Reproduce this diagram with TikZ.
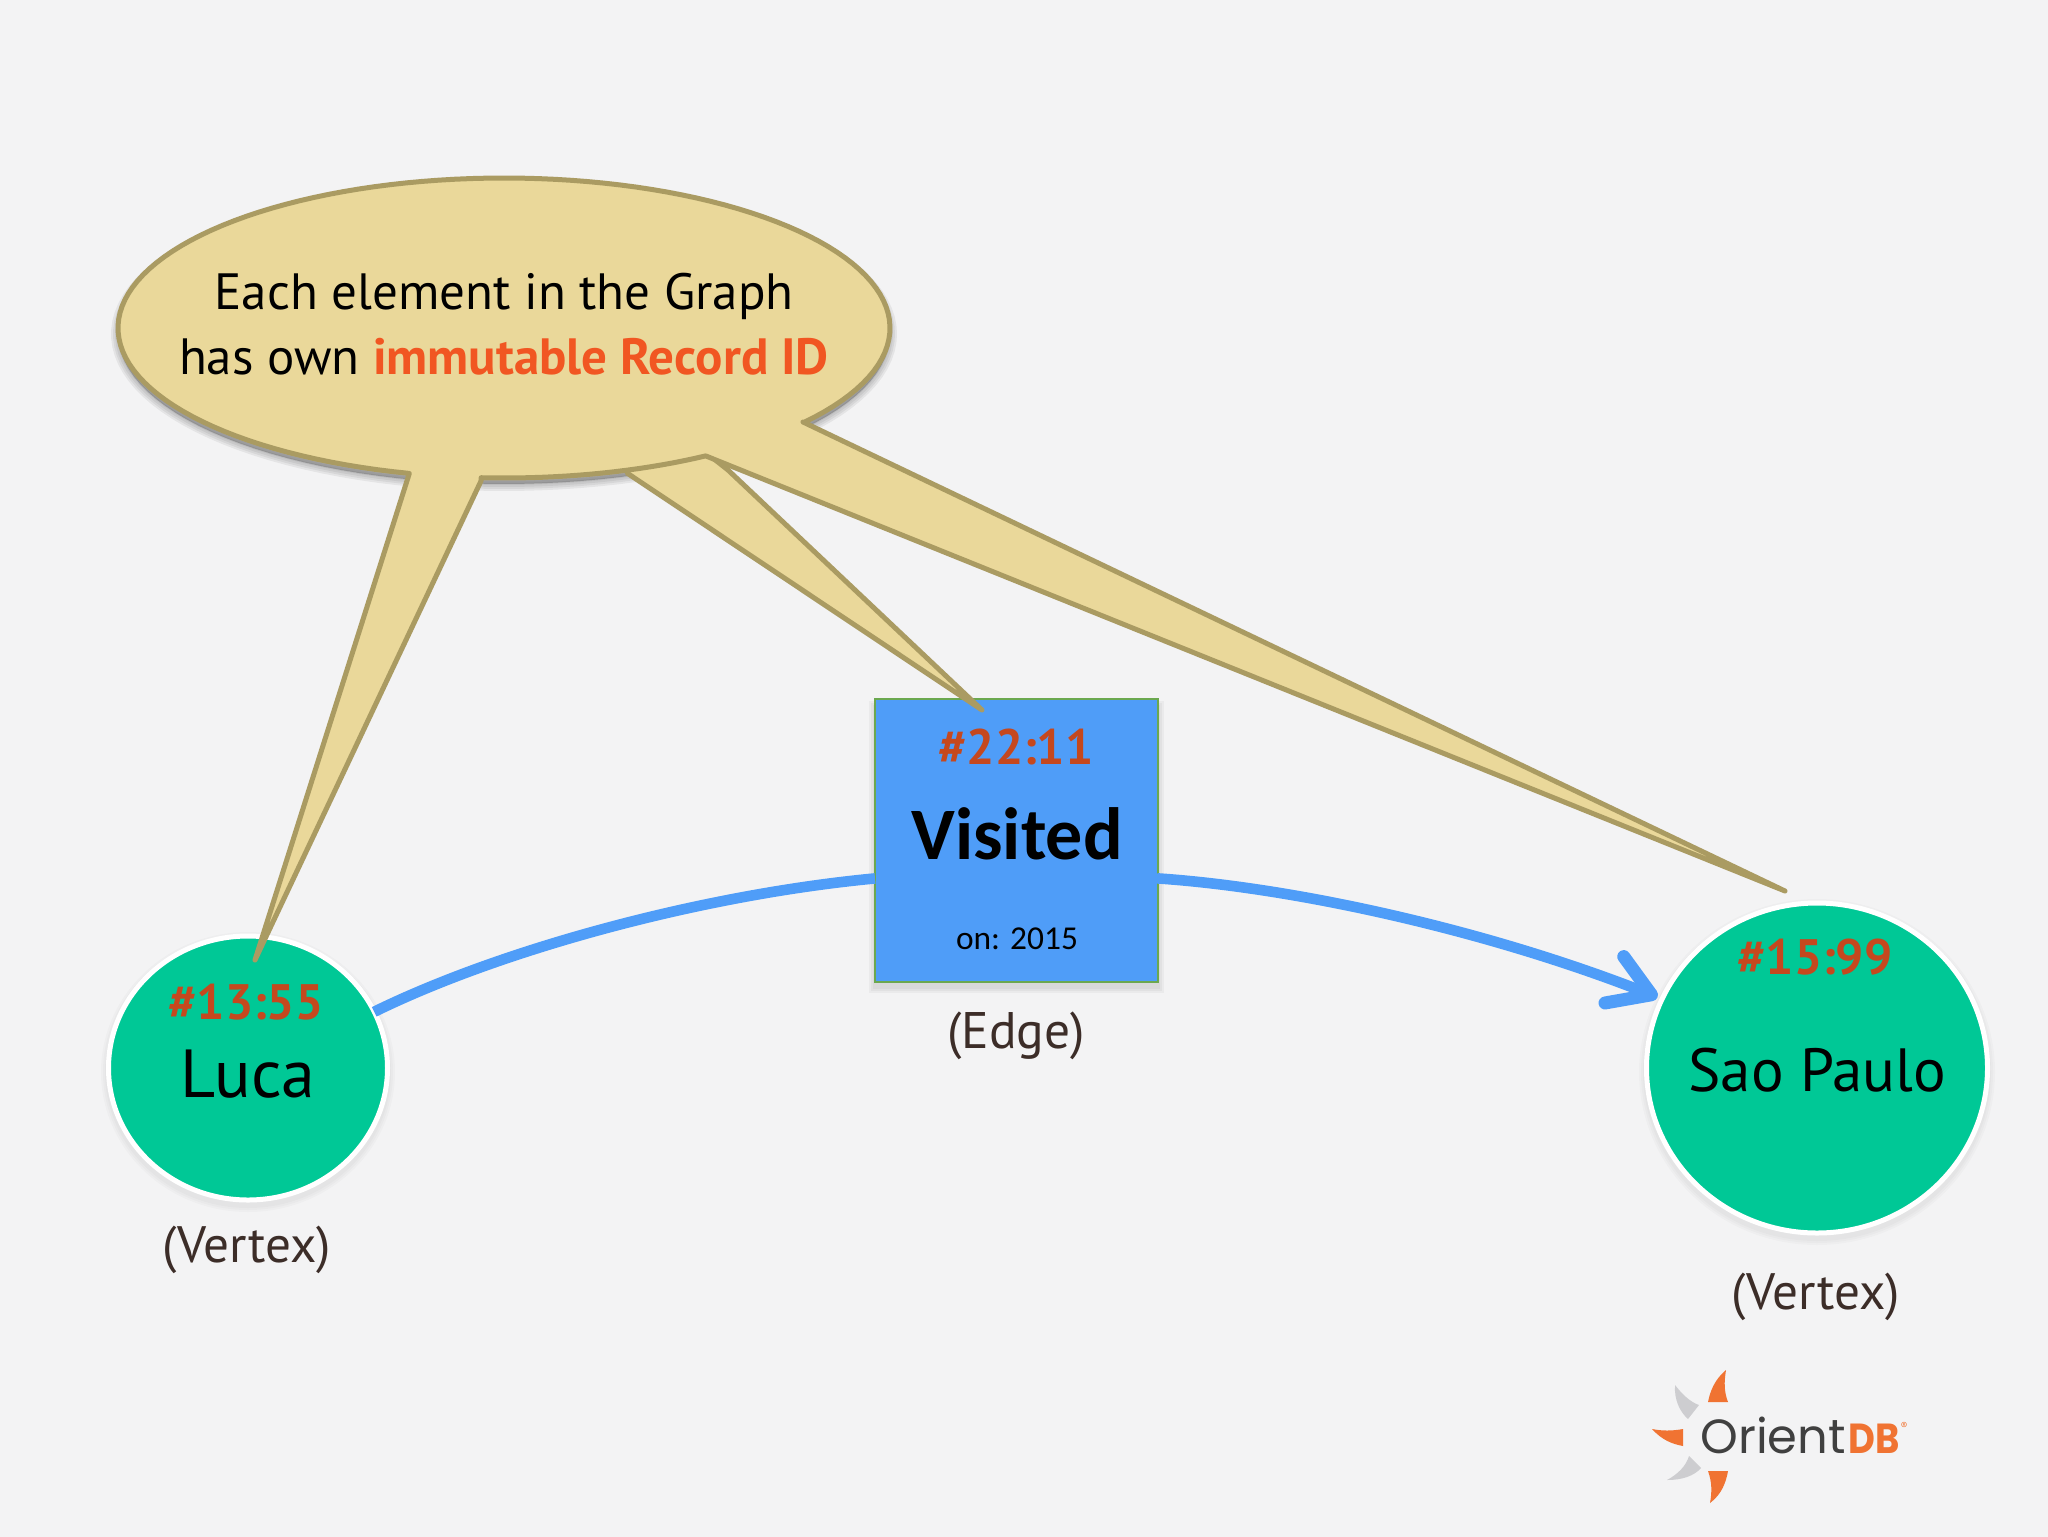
\documentclass[tikz,border=0pt]{standalone}
\usepackage{fontspec}
\usetikzlibrary{shapes.geometric,arrows.meta,bending}
\setmainfont{PT Sans}
\newfontfamily\carl{Carlito}
\newfontfamily\pop{Poppins}
\definecolor{bg}{RGB}{243,243,244}
\definecolor{vgreen}{RGB}{0,200,150}
\definecolor{eblue}{RGB}{79,157,248}
\definecolor{eedge}{RGB}{107,168,79}
\definecolor{idred}{RGB}{197,72,30}
\definecolor{idhi}{RGB}{241,86,34}
\definecolor{bfill}{RGB}{234,216,154}
\definecolor{bline}{RGB}{170,155,98}
\definecolor{lab}{RGB}{60,45,40}
\definecolor{logoo}{RGB}{240,115,50}
\definecolor{logog}{RGB}{205,205,208}
\newcommand{\fs}[1]{\fontsize{#1}{#1}\selectfont}
\newcommand{\bubblepath}{(803,422) -- plot[domain=39:-255.8,samples=120] ({504+386*cos(\x)},{328+150*sin(\x)}) -- (255,960) -- (481,481) -- plot[domain=93.4:58.5,samples=20] ({504+386*cos(\x)},{328+150*sin(\x)}) -- (1785,891) -- cycle}
\newcommand{\tailpath}{(627,473) -- (982,710) -- (728,470) -- (690,440) -- (640,440) -- cycle}
\tikzset{
 vertex/.style={ellipse,draw=white,line width=2.5pt,fill=vgreen,inner sep=0pt,outer sep=0pt},
 edgebox/.style={rectangle,draw=eedge,line width=1.2pt,fill=eblue,inner sep=0pt,outer sep=0pt,minimum width=141.5pt,minimum height=141.5pt},
 txt/.style={anchor=base,inner sep=0pt},
 rid/.style={txt,font=\bfseries\fs{24.9},text=idred},
 conn/.style={draw=eblue,line width=5.3pt},
 bub/.style={fill=bfill,draw=bline,line width=2.5pt,line join=round},
}
\begin{document}
\begin{tikzpicture}[x=.5pt,y=-.5pt]
\useasboundingbox (0,0) rectangle (2048,1536);
\fill[bg] (-10,-10) rectangle (2058,1546);
% node soft shadows
\foreach \w in {10,6,2}{
 \fill[black,opacity=.035] (874-\w*.5,706-\w*.5) rectangle (1159+\w*.5,988+\w*.5);
 \fill[black,opacity=.02] (248,1072) ellipse [x radius=142+\w*.5,y radius=135+\w*.5];
 \fill[black,opacity=.02] (1817,1072) ellipse [x radius=173+\w*.5,y radius=168+\w*.5];
}
\node[edgebox] (vis) at (1016.5,840.5) {};
\node[vertex,minimum width=139.5pt,minimum height=132pt] (luca) at (248,1068) {};
\node[vertex,minimum width=170.5pt,minimum height=165pt] (sao) at (1817,1068) {};
\draw[conn] (luca.24.5) .. controls (500,950) and (700,895) .. (vis.195.5);
\draw[conn,line cap=round,shorten >=2.5pt,-{Straight Barb[length=20pt,width=25pt,round,flex,line width=6.5pt]}] (vis.345.2) .. controls (1300,888) and (1500,933) .. (sao.156.7);
% bubble shadow
\foreach \w in {14,10,6,2}{
 \fill[black,opacity=.06,line width=\w*.5pt,draw=black,draw opacity=.06,line join=round,shift={(0,6)}] plot[domain=0:360,samples=120] ({504+386*cos(\x)},{328+150*sin(\x)}) -- cycle;
}
\path[bub] \tailpath;
\path[bub] \bubblepath;
% texts
\node[txt,font=\fs{25.5}] (t1) at (504,309) {Each element in the Graph};
\node[txt,font=\fs{25.5}] (t2) at (504,374) {has own {\bfseries\color{idhi} immutable Record ID}};
\node[rid] (id1) at (246,1019) {\#13:55};
\node[txt,font=\fs{34}] (n1) at (248,1097) {Luca};
\node[txt,font=\fs{25.6},text=lab] (l1) at (247,1262) {(Vertex)};
\node[rid] (id2) at (1016,764) {\#22:11};
\node[txt,font=\carl\bfseries\fs{37}] (n2) at (1017,859) {Visited};
\node[txt,font=\carl\fs{16.7}] (n3) at (1017,949) {on: 2015};
\node[txt,font=\fs{25.7},text=lab] (l2) at (1016,1048) {(Edge)};
\node[rid] (id3) at (1815,974) {\#15:99};
\node[txt,font=\fs{30.5}] (n4) at (1817,1091) {Sao Paulo};
\node[txt,font=\fs{25.6},text=lab] (l3) at (1816,1309) {(Vertex)};
% logo
\fill[logoo] (1726,1370) .. controls (1714,1380) and (1710,1392) .. (1708,1402) -- (1728,1402) .. controls (1724,1392) and (1724,1382) .. cycle;
\fill[logog] (1675,1385) .. controls (1674,1400) and (1680,1412) .. (1688,1419) -- (1699,1405) .. controls (1690,1402) and (1682,1394) .. cycle;
\fill[logoo] (1652,1429) .. controls (1662,1440) and (1672,1444) .. (1683,1446) -- (1683,1429) .. controls (1672,1431) and (1662,1431) .. cycle;
\fill[logog] (1667,1480) .. controls (1682,1480) and (1694,1476) .. (1701,1468) -- (1689,1456) .. controls (1686,1466) and (1678,1474) .. cycle;
\fill[logoo] (1710,1503) .. controls (1722,1494) and (1726,1482) .. (1728,1471) -- (1708,1471) .. controls (1712,1482) and (1712,1492) .. cycle;
\node[anchor=base west,inner sep=0pt,font=\pop\fs{24},text=black!75] (o1) at (1700,1453) {Orient};
\node[anchor=base west,inner sep=0pt,font=\pop\bfseries\fs{21},text=logoo,xscale=.88] (o2) at (1848,1453) {DB};
\node[anchor=center,inner sep=0pt,font=\fs{5},text=logoo] (o3) at (1904,1426) {®};
\end{tikzpicture}
\end{document}
